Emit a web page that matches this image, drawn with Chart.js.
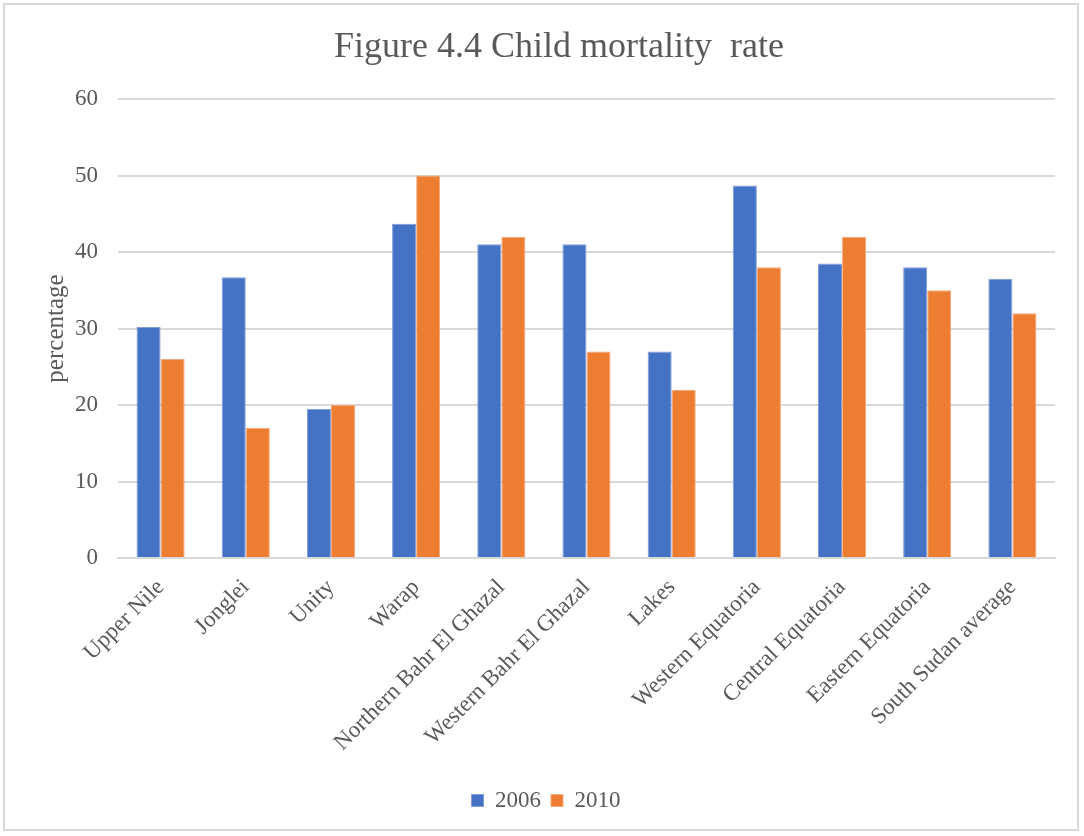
<!DOCTYPE html>
<html>
<head>
<meta charset="utf-8">
<script src="https://cdn.jsdelivr.net/npm/chart.js@4"></script>
<style>
  html, body { margin: 0; padding: 0; background: #ffffff; }
  #frame {
    position: absolute; left: 3px; top: 3px;
    width: 1076px; height: 828px;
    border: 2px solid #d9d9d9; box-sizing: border-box;
    background: #ffffff;
  }
  #wrap { position: absolute; left: 0; top: 0; width: 1084px; height: 836px; }
</style>
</head>
<body>
<div id="frame"></div>
<div id="wrap"><canvas id="chart" width="1084" height="836"></canvas></div>
<script>
// Regions of South Sudan
const regions = [
  'Upper Nile', 'Jonglei', 'Unity', 'Warap', 'Northern Bahr El Ghazal',
  'Western Bahr El Ghazal', 'Lakes', 'Western Equatoria', 'Central Equatoria',
  'Eastern Equatoria', 'South Sudan average'
];
// Child mortality rate (%) by survey year
const rate2006 = [30.2, 36.7, 19.5, 43.7, 41.0, 41.0, 27.0, 48.7, 38.5, 38.0, 36.5];
const rate2010 = [26.0, 17.0, 20.0, 50.0, 42.0, 27.0, 22.0, 38.0, 42.0, 35.0, 32.0];
const yTicks = [0, 10, 20, 30, 40, 50, 60];
const chartTitle = 'Figure 4.4 Child mortality  rate';

const serif = "'Liberation Serif', 'Times New Roman', serif";
const textGrey = '#595959';

// Heading drawn straight onto the canvas above the plot
const headingPlugin = {
  id: 'heading',
  afterDraw(chart) {
    const ctx = chart.ctx;
    ctx.save();
    ctx.fillStyle = textGrey;
    ctx.font = "36px " + serif;
    ctx.textAlign = 'center';
    ctx.textBaseline = 'alphabetic';
    ctx.fillText(chartTitle, 559, 57);
    ctx.restore();
  }
};

new Chart(document.getElementById('chart'), {
  type: 'bar',
  data: {
    labels: regions,
    datasets: [
      { label: '2006', data: rate2006, backgroundColor: '#4472C4', borderColor: '#7f9bd6', borderWidth: 1 },
      { label: '2010', data: rate2010, backgroundColor: '#ED7D31', borderColor: '#f4a878', borderWidth: 1 }
    ]
  },
  plugins: [headingPlugin],
  options: {
    responsive: false,
    animation: false,
    layout: { padding: { left: 37, right: 29, top: 99, bottom: 14 } },
    datasets: { bar: { categoryPercentage: 0.565, barPercentage: 1.0 } },
    plugins: {
      title: { display: false },
      legend: {
        position: 'bottom',
        labels: {
          color: textGrey,
          font: { family: serif, size: 23 },
          boxWidth: 12, boxHeight: 12,
          padding: 10
        }
      },
      tooltip: { enabled: false }
    },
    scales: {
      x: {
        grid: { display: false, drawTicks: false },
        border: { display: true, color: '#d9d9d9', width: 2 },
        ticks: {
          color: textGrey,
          font: { family: serif, size: 23 },
          minRotation: 45, maxRotation: 45,
          padding: 16
        },
        afterFit: (s) => { s.height = 221; }
      },
      y: {
        min: 0, max: 60,
        afterBuildTicks: (axis) => { axis.ticks = yTicks.map(v => ({ value: v })); },
        grid: { color: '#d9d9d9', lineWidth: 2, drawTicks: false },
        border: { display: false },
        ticks: {
          color: textGrey,
          font: { family: serif, size: 23 },
          padding: 20
        },
        title: {
          display: true,
          text: 'percentage',
          color: textGrey,
          font: { family: serif, size: 25 },
          padding: { top: 4, bottom: 4 }
        },
        afterFit: (s) => { s.width = 81; }
      }
    }
  }
});
</script>
</body>
</html>
